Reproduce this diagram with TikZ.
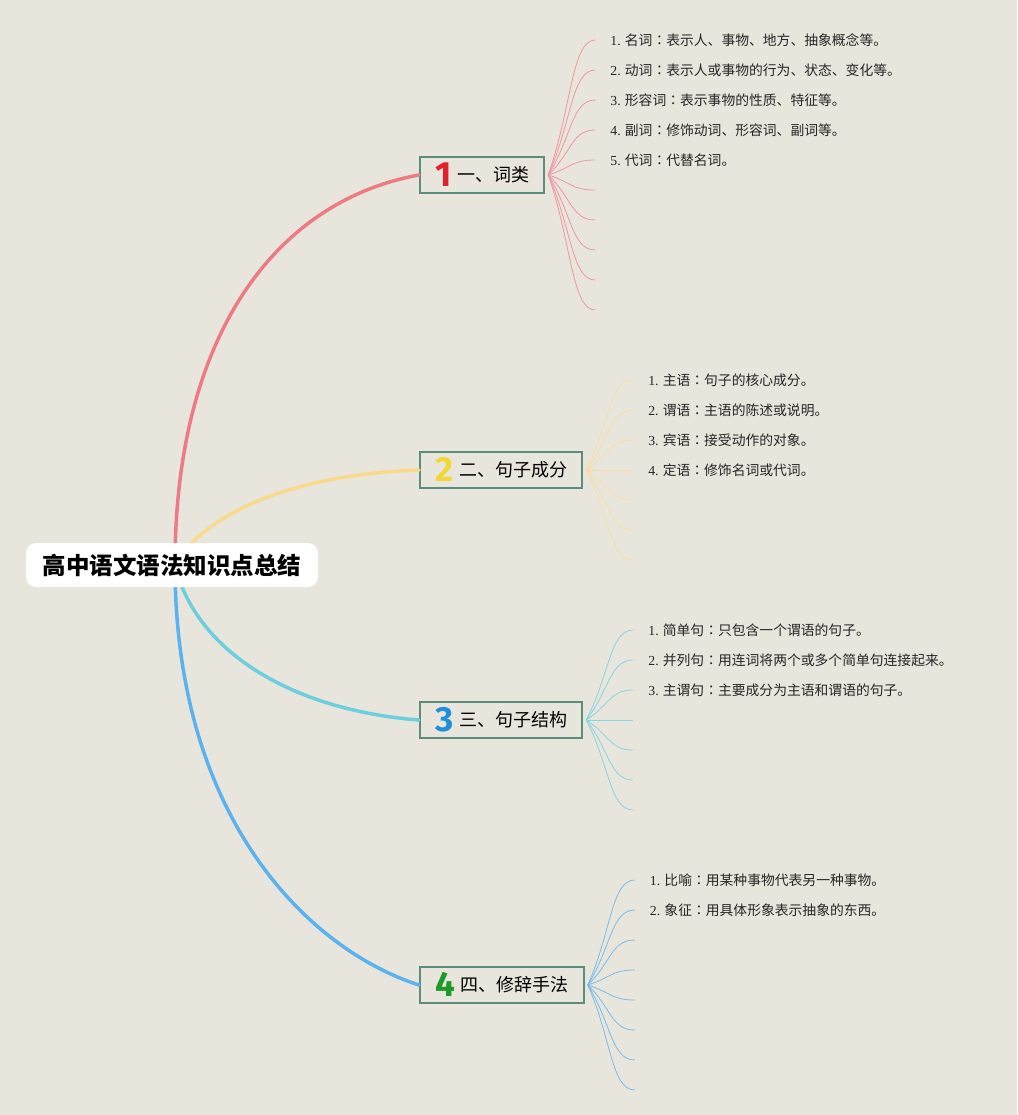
\documentclass[tikz,border=0pt]{standalone}
\usepackage{fontspec}
\setmainfont{Liberation Serif}
\newfontfamily\cjk{Noto Sans CJK SC}
\newfontfamily\cjktc{Noto Sans CJK TC}
\newfontfamily\numfont{Fira Sans}
\usetikzlibrary{positioning, calc}

\definecolor{bg}{RGB}{232,229,221}
\definecolor{boxline}{RGB}{92,140,124}
\definecolor{trunkred}{RGB}{238,123,131}
\definecolor{trunkyellow}{RGB}{249,217,138}
\definecolor{trunkcyan}{RGB}{108,207,223}
\definecolor{trunkblue}{RGB}{90,178,238}
\definecolor{fanred}{RGB}{240,150,158}
\definecolor{fanyellow}{RGB}{249,221,166}
\definecolor{fancyan}{RGB}{135,212,226}
\definecolor{fanblue}{RGB}{120,188,236}
\definecolor{numred}{RGB}{224,32,42}
\definecolor{numyellow}{RGB}{242,216,53}
\definecolor{numblue}{RGB}{30,144,219}
\definecolor{numgreen}{RGB}{30,154,40}

\newcommand{\topicnum}[2]{\raisebox{-4.5pt}[0pt][0pt]{\numfont\bfseries\fontsize{35}{35}\selectfont\color{#1}#2}\hspace{6pt}}
\newcommand{\lcolon}{{\cjktc ：}}

\begin{document}
\begin{tikzpicture}[
  x=1pt, y=-1pt,
  root/.style={
    rectangle, rounded corners=10pt, fill=white,
    minimum width=292pt, minimum height=44pt, inner sep=0pt,
    font=\cjk\bfseries\fontsize{23.5}{28}\selectfont
  },
  topic/.style={
    rectangle, draw=boxline, line width=2pt, fill=bg,
    minimum height=36pt, inner xsep=15pt, inner ysep=0pt,
    anchor=west, font=\cjk\fontsize{18}{22}\selectfont
  },
  leaf/.style={
    inner sep=0pt, text=black!85,
    font=\cjk\fontsize{13.8}{16}\selectfont
  },
  trunk/.style={
    line width=3.5pt, line cap=round
  },
  twig/.style={
    line width=0.8pt
  }
]

\useasboundingbox (0,0) rectangle (1017,1115);
\fill[bg] (0,0) rectangle (1017,1115);

% ================= Centre & Topics =================
\coordinate (hub) at (175,565);
\node[topic] (B1) at (419,175) {\topicnum{numred}{1}一、词类};
\node[topic] (B2) at (419,470) {\topicnum{numyellow}{2}二、句子成分};
\node[topic] (B3) at (419,720) {\topicnum{numblue}{3}三、句子结构};
\node[topic] (B4) at (419,985) {\topicnum{numgreen}{4}四、修辞手法};

% ================= Trunks =================
\draw[trunk, trunkred] (hub) .. controls (175,330) and (280,200) .. (B1.west);
\draw[trunk, trunkyellow] (hub) .. controls (200,520) and (280,475) .. (B2.west);
\draw[trunk, trunkcyan] (hub) .. controls (195,650) and (290,710) .. (B3.west);
\draw[trunk, trunkblue] (hub) .. controls (175,820) and (310,950) .. (B4.west);

\node[root] (Root) at (172,565) {高中语文语法知识点总结};

% ================= Fans =================
\coordinate (f1) at ([xshift=3pt]B1.east);
\coordinate (f2) at ([xshift=3pt]B2.east);
\coordinate (f3) at ([xshift=3pt]B3.east);
\coordinate (f4) at ([xshift=3pt]B4.east);

\foreach \k in {1,...,10}{
  \coordinate (f1e\k) at ($(f1)+(47,{30*\k-165})$);
  \draw[twig, fanred] (f1) .. controls ($(f1)!0.5!(f1e\k)$) and ($(f1|-f1e\k)!0.5!(f1e\k)$) .. (f1e\k);
}
\foreach \k in {1,...,7}{
  \coordinate (f2e\k) at ($(f2)+(47,{30*\k-120})$);
  \draw[twig, fanyellow] (f2) .. controls ($(f2)!0.5!(f2e\k)$) and ($(f2|-f2e\k)!0.5!(f2e\k)$) .. (f2e\k);
}
\foreach \k in {1,...,7}{
  \coordinate (f3e\k) at ($(f3)+(47,{30*\k-120})$);
  \draw[twig, fancyan] (f3) .. controls ($(f3)!0.5!(f3e\k)$) and ($(f3|-f3e\k)!0.5!(f3e\k)$) .. (f3e\k);
}
\foreach \k in {1,...,8}{
  \coordinate (f4e\k) at ($(f4)+(47,{30*\k-135})$);
  \draw[twig, fanblue] (f4) .. controls ($(f4)!0.5!(f4e\k)$) and ($(f4|-f4e\k)!0.5!(f4e\k)$) .. (f4e\k);
}

% ================= Leaves: 词类 =================
\node[leaf, right=15pt of f1e1] (L11) {\textrm{1.} 名词\lcolon 表示人、事物、地方、抽象概念等。};
\node[leaf, right=15pt of f1e2] (L12) {\textrm{2.} 动词\lcolon 表示人或事物的行为、状态、变化等。};
\node[leaf, right=15pt of f1e3] (L13) {\textrm{3.} 形容词\lcolon 表示事物的性质、特征等。};
\node[leaf, right=15pt of f1e4] (L14) {\textrm{4.} 副词\lcolon 修饰动词、形容词、副词等。};
\node[leaf, right=15pt of f1e5] (L15) {\textrm{5.} 代词\lcolon 代替名词。};

% ================= Leaves: 句子成分 =================
\node[leaf, right=15pt of f2e1] (L21) {\textrm{1.} 主语\lcolon 句子的核心成分。};
\node[leaf, right=15pt of f2e2] (L22) {\textrm{2.} 谓语\lcolon 主语的陈述或说明。};
\node[leaf, right=15pt of f2e3] (L23) {\textrm{3.} 宾语\lcolon 接受动作的对象。};
\node[leaf, right=15pt of f2e4] (L24) {\textrm{4.} 定语\lcolon 修饰名词或代词。};

% ================= Leaves: 句子结构 =================
\node[leaf, right=15pt of f3e1] (L31) {\textrm{1.} 简单句\lcolon 只包含一个谓语的句子。};
\node[leaf, right=15pt of f3e2] (L32) {\textrm{2.} 并列句\lcolon 用连词将两个或多个简单句连接起来。};
\node[leaf, right=15pt of f3e3] (L33) {\textrm{3.} 主谓句\lcolon 主要成分为主语和谓语的句子。};

% ================= Leaves: 修辞手法 =================
\node[leaf, right=15pt of f4e1] (L41) {\textrm{1.} 比喻\lcolon 用某种事物代表另一种事物。};
\node[leaf, right=15pt of f4e2] (L42) {\textrm{2.} 象征\lcolon 用具体形象表示抽象的东西。};

\end{tikzpicture}
\end{document}
